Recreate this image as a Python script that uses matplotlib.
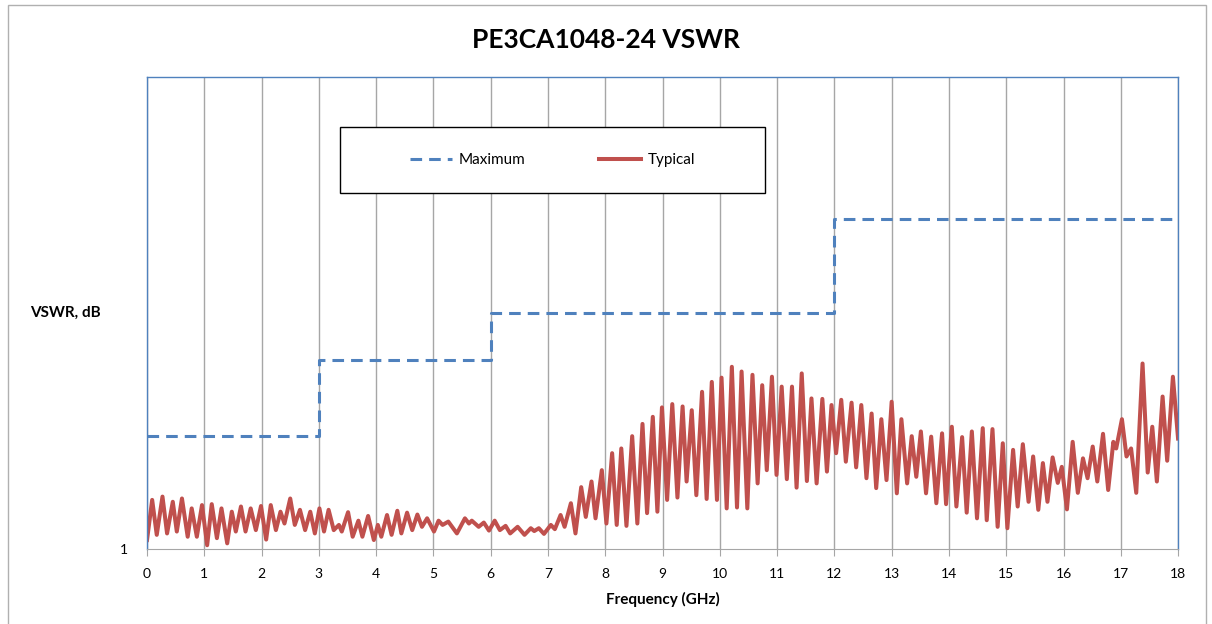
import matplotlib
matplotlib.use("Agg")
import matplotlib.pyplot as plt
from matplotlib.patches import Rectangle

plt.rcParams["font.family"] = ["Lato", "DejaVu Sans"]

# maximum VSWR limit, stepped by band
max_freq = [0, 3, 3, 6, 6, 12, 12, 18]
max_vswr = [1.24, 1.24, 1.40, 1.40, 1.50, 1.50, 1.70, 1.70]

# typical VSWR trace (read off peaks / troughs)
typ_freq = [
    0.00, 0.09, 0.17, 0.27, 0.35, 0.45, 0.52, 0.61, 0.71, 0.78, 0.87, 0.96,
    1.05, 1.13, 1.22, 1.30, 1.40, 1.48, 1.55, 1.64, 1.72, 1.81, 1.90, 1.99,
    2.08, 2.16, 2.25, 2.33, 2.40, 2.50, 2.58, 2.67, 2.76, 2.85, 2.93,
    3.01, 3.09, 3.17, 3.26, 3.35, 3.40, 3.51, 3.59, 3.69, 3.76, 3.86, 3.96,
    4.03, 4.09, 4.19, 4.27, 4.37, 4.44, 4.54, 4.63, 4.72, 4.80, 4.89,
    5.01, 5.09, 5.16, 5.26, 5.41, 5.55, 5.62, 5.67, 5.79, 5.88, 5.97,
    6.07, 6.16, 6.26, 6.34, 6.47, 6.59, 6.70, 6.76, 6.84, 6.93,
    7.05, 7.12, 7.22, 7.29, 7.40, 7.48, 7.58, 7.66, 7.76, 7.83, 7.94,
    8.02, 8.12, 8.20, 8.28, 8.37, 8.47, 8.56, 8.65, 8.73, 8.83, 8.91, 8.99,
    9.08, 9.17, 9.26, 9.35, 9.42, 9.51, 9.59, 9.69, 9.77, 9.86, 9.95,
    10.03, 10.12, 10.21, 10.30, 10.38, 10.48, 10.57, 10.66, 10.74, 10.82, 10.91, 10.99,
    11.08, 11.17, 11.26, 11.34, 11.43, 11.52, 11.60, 11.69, 11.79, 11.87, 11.95,
    12.03, 12.12, 12.20, 12.30, 12.38, 12.47, 12.56, 12.65, 12.73, 12.82, 12.91,
    13.00, 13.09, 13.17, 13.27, 13.35, 13.43, 13.51, 13.60, 13.69, 13.78, 13.88, 13.95,
    14.05, 14.13, 14.23, 14.31, 14.40, 14.49, 14.59, 14.66, 14.76, 14.85, 14.94,
    15.02, 15.12, 15.20, 15.29, 15.39, 15.47, 15.56, 15.64, 15.72, 15.81, 15.90, 15.97,
    16.06, 16.16, 16.25, 16.34, 16.42, 16.51, 16.59, 16.69, 16.78, 16.87, 16.92,
    17.02, 17.10, 17.18, 17.27, 17.38, 17.47, 17.55, 17.63, 17.73, 17.81, 17.91, 18.00,
]
typ_vswr = [
    1.019, 1.104, 1.030, 1.111, 1.033, 1.100, 1.037, 1.107, 1.026, 1.086, 1.026, 1.093,
    1.008, 1.095, 1.023, 1.086, 1.012, 1.079, 1.037, 1.090, 1.037, 1.086, 1.040, 1.091,
    1.020, 1.093, 1.040, 1.079, 1.054, 1.107, 1.051, 1.083, 1.040, 1.079, 1.033,
    1.086, 1.037, 1.083, 1.040, 1.051, 1.037, 1.078, 1.026, 1.060, 1.026, 1.070, 1.019,
    1.051, 1.026, 1.072, 1.030, 1.081, 1.033, 1.077, 1.040, 1.073, 1.047, 1.065,
    1.037, 1.060, 1.051, 1.058, 1.033, 1.065, 1.054, 1.060, 1.047, 1.056, 1.039,
    1.060, 1.040, 1.049, 1.033, 1.047, 1.030, 1.044, 1.038, 1.044, 1.032,
    1.051, 1.042, 1.072, 1.047, 1.097, 1.033, 1.131, 1.068, 1.143, 1.065, 1.167,
    1.054, 1.203, 1.051, 1.213, 1.049, 1.239, 1.054, 1.265, 1.076, 1.280, 1.079, 1.300,
    1.104, 1.307, 1.109, 1.302, 1.143, 1.294, 1.114, 1.333, 1.106, 1.354, 1.104,
    1.363, 1.086, 1.386, 1.088, 1.376, 1.086, 1.369, 1.139, 1.347, 1.167, 1.365, 1.157,
    1.344, 1.148, 1.344, 1.130, 1.372, 1.144, 1.319, 1.139, 1.318, 1.164, 1.305,
    1.203, 1.316, 1.185, 1.310, 1.173, 1.305, 1.150, 1.287, 1.129, 1.275, 1.146,
    1.312, 1.118, 1.275, 1.139, 1.239, 1.153, 1.249, 1.118, 1.238, 1.097, 1.245, 1.095,
    1.259, 1.090, 1.237, 1.077, 1.249, 1.065, 1.256, 1.061, 1.254, 1.047, 1.224,
    1.044, 1.210, 1.090, 1.222, 1.100, 1.196, 1.083, 1.182, 1.100, 1.194, 1.140, 1.174,
    1.084, 1.227, 1.119, 1.192, 1.150, 1.217, 1.143, 1.244, 1.125, 1.227, 1.213,
    1.275, 1.196, 1.213, 1.119, 1.393, 1.162, 1.259, 1.143, 1.323, 1.187, 1.365, 1.234,
]

freq_ticks = list(range(0, 19))

blue = "#4F81BD"
red = "#C0504D"

fig = plt.figure(figsize=(12.12, 6.24), dpi=100)
ax = fig.add_axes([0.1213, 0.1202, 0.8507, 0.7564])

# outer chart border
fig.patches.append(Rectangle((0.0066, -0.01), 0.9885, 1.002, transform=fig.transFigure,
                             fill=False, edgecolor="#B0B0B0", linewidth=1))

ax.plot(max_freq, max_vswr, color=blue, linewidth=2.2, dashes=(3.8, 2.3),
        label="Maximum")
ax.plot(typ_freq, typ_vswr, color=red, linewidth=2.9, solid_joinstyle="round",
        label="Typical")

ax.set_xlim(0, 18)
ax.set_ylim(1, 2)
ax.set_xticks(freq_ticks)
ax.set_yticks([1])
ax.xaxis.grid(True, color="#A6A6A6", linewidth=1)
ax.set_axisbelow(True)

ax.tick_params(axis="x", length=5, color="#A6A6A6", labelsize=10, pad=9)
ax.tick_params(axis="y", length=0, labelsize=10, pad=14)

for s in ["top", "right", "left"]:
    ax.spines[s].set_color(blue)
    ax.spines[s].set_linewidth(1)
ax.spines["bottom"].set_color("#A6A6A6")

fig.text(0.5, 1 - 40 / 624, "PE3CA1048-24 VSWR", fontsize=19, fontweight="bold",
         ha="center", va="center")
ax.set_xlabel("Frequency (GHz)", fontsize=11, fontweight="bold", labelpad=8)
ax.set_ylabel("VSWR, dB", fontsize=11, fontweight="bold", rotation=0,
              ha="center", va="center")
ax.yaxis.set_label_coords(-0.079, 0.5)

# legend box
ax.add_patch(Rectangle((0.187, 0.754), 0.412, 0.140, transform=ax.transAxes,
                       facecolor="white", edgecolor="black", linewidth=1, zorder=5))
leg = ax.legend(loc="center", bbox_to_anchor=(0.393, 0.824), ncol=2, frameon=False,
                fontsize=11, handlelength=2.8, handletextpad=0.4, columnspacing=4.8)
leg.set_zorder(6)

fig.savefig("out.png", dpi=100)
